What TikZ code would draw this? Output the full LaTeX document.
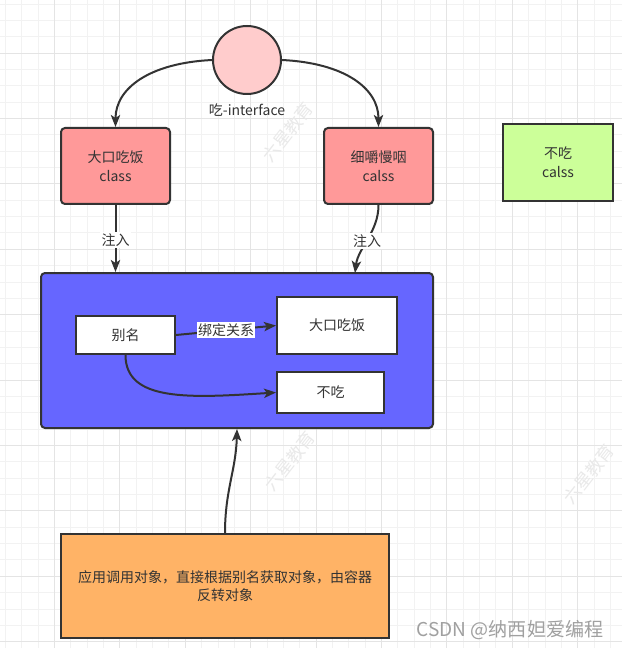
\documentclass[tikz,border=0pt]{standalone}
\usepackage{fontspec}
\setmainfont{Noto Sans CJK SC}
\usetikzlibrary{arrows.meta}
\definecolor{ink}{HTML}{333333}
\definecolor{gminor}{HTML}{F2F2F2}
\definecolor{gmajor}{HTML}{E4E4E4}
\definecolor{circfill}{HTML}{FFCCCC}
\definecolor{redfill}{HTML}{FF9999}
\definecolor{greenfill}{HTML}{CCFF99}
\definecolor{bluefill}{HTML}{6666FF}
\definecolor{orangefill}{HTML}{FFB366}
\definecolor{wmgray}{HTML}{E9E9E9}
\definecolor{csdngray}{HTML}{A0A0A0}
\tikzset{
  box/.style={draw=ink, line width=1.5pt, rectangle, text=ink, align=center, font=\fontsize{10.5pt}{14pt}\selectfont, inner sep=2pt},
  rbox/.style={box, rounded corners=3pt},
  conn/.style={draw=ink, line width=1.5pt, -{Stealth[length=9pt,width=7pt,inset=2.2pt]}},
  lbl/.style={fill=white, text=ink, inner sep=1pt, font=\fontsize{10.5pt}{12pt}\selectfont},
  wm/.style={text=wmgray, font=\fontsize{13pt}{13pt}\selectfont, rotate=52, inner sep=0pt},
}
\begin{document}
\begin{tikzpicture}[x=0.75pt,y=-0.75pt]
\useasboundingbox (0,0) rectangle (622,648);
\clip (0,0) rectangle (622,648);
\fill[white] (0,0) rectangle (622,648);
% grid
\foreach \i in {0,...,38} {
  \draw[gminor, line width=0.75pt] ({5.45+16.35*\i},0) -- ({5.45+16.35*\i},648);
  \draw[gminor, line width=0.75pt] (0,{4.05+16.35*\i}) -- (622,{4.05+16.35*\i});
}
\foreach \i in {0,...,9} {
  \draw[gmajor, line width=0.75pt] ({54.5+65.4*\i},0) -- ({54.5+65.4*\i},648);
  \draw[gmajor, line width=0.75pt] (0,{53.1+65.4*\i}) -- (622,{53.1+65.4*\i});
}
% watermarks
\node[wm] (wm1) at (288,132) {六星教育};
\node[wm] (wm2) at (290,461) {六星教育};
\node[wm] (wm3) at (589,474) {六星教育};

% nodes
\node[box, circle, fill=circfill, minimum size=51pt, inner sep=0pt] (circ) at (247,60) {};
\node[text=ink, font=\fontsize{10.5pt}{12pt}\selectfont] (ilabel) at (247,110) {吃-interface};
\node[rbox, fill=redfill, minimum width=81.75pt, minimum height=57pt] (cls1) at (115.5,166) {大口吃饭\\class};
\node[rbox, fill=redfill, minimum width=81.75pt, minimum height=57pt] (cls2) at (378.5,166) {细嚼慢咽\\calss};
\node[box, fill=greenfill, minimum width=82.5pt, minimum height=57.75pt] (cls3) at (558,162.5) {不吃\\calss};
\node[rbox, fill=bluefill, minimum width=294pt, minimum height=116.25pt] (big) at (237,350.5) {};
\node[box, fill=white, minimum width=74.25pt, minimum height=28.5pt] (alias) at (125.5,335) {别名};
\node[box, fill=white, minimum width=90pt, minimum height=42.75pt] (dk) at (337,325.5) {大口吃饭};
\node[box, fill=white, minimum width=80.25pt, minimum height=30.75pt] (bc) at (330.5,392.5) {不吃};
\node[box, fill=orangefill, minimum width=246pt, minimum height=78pt] (app) at (225,586) {应用调用对象，直接根据别名获取对象，由容器\\反转对象};

\coordinate (t2) at (355,273);

% connectors
\draw[conn] (circ.west) .. controls (150,63) and (115.5,88) .. (cls1.north);
\draw[conn] (circ.east) .. controls (344,63) and (378.5,88) .. (cls2.north);
\draw[conn] (cls1.south) -- node[lbl, pos=0.52] {注入} (cls1.south |- big.north);
\draw[conn] (cls2.south) .. controls (378.5,232) and (358,248) .. node[lbl, pos=0.52] {注入} (t2);
\draw[conn] (alias.east) -- node[lbl, pos=0.5] {绑定关系} (dk.west);
\draw[conn] (alias.south) .. controls (125.5,402) and (190,398) .. (bc.west);
\draw[conn] (app.north) .. controls (225,490) and (236,470) .. (big.south);

% csdn watermark
\node[text=csdngray, font=\fontsize{14.3pt}{15pt}\selectfont] (csdn) at (510,630) {CSDN @纳西妲爱编程};
\end{tikzpicture}
\end{document}
